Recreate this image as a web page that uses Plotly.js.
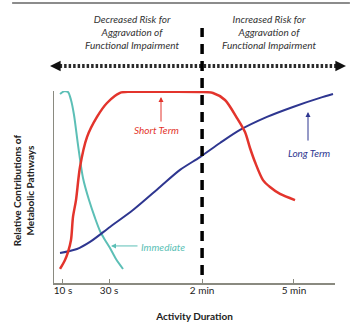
<!DOCTYPE html>
<html><head><meta charset="utf-8">
<script src="https://cdn.plot.ly/plotly-3.0.1.min.js"></script>
<style>html,body{margin:0;padding:0;background:#fff}</style>
</head><body><div id="chart" style="width:350px;height:327px"></div>
<script>
// Tick positions (arbitrary duration scale 0-100) and labels
const tickVals = [3.2, 19.6, 52.7, 85.4];
const tickText = ['10 s', '30 s', '2 min', '5 min'];
const splitAt = 52.7; // 2 min boundary

// Immediate pathway
const immX = [2.14, 3.56, 4.98, 6.05, 7.12, 8.54, 10.32, 12.46, 14.59, 16.37, 18.15, 19.93, 22.06, 24.56];
const immY = [98.4, 99.8, 99.5, 95.3, 87.5, 71.9, 54.7, 43.2, 33.9, 27.1, 22.4, 18.2, 12.5, 7.3];

// Short term pathway
const shortX = [2.14, 3.91, 4.98, 6.05, 6.76, 7.83, 9.25, 11.74, 15.30, 18.86, 23.49, 27.05, 37.7, 51.96, 56.58, 60.85, 65.12, 67.97, 69.75, 71.53, 74.38, 76.87, 80.43, 85.77];
const shortY = [7.3, 12.0, 16.1, 22.4, 34.4, 43.2, 60.4, 76.0, 86.5, 93.75, 99.0, 99.6, 99.6, 99.5, 98.96, 95.3, 85.9, 78.6, 70.3, 63.0, 53.6, 50.0, 46.4, 43.2];

// Long term pathway
const longX = [2.14, 8.19, 12.81, 19.93, 28.11, 37.72, 44.84, 51.96, 59.07, 66.19, 75.8, 85.05, 94.66, 99.29];
const longY = [15.6, 17.7, 21.4, 29.2, 38.0, 50.0, 58.9, 65.6, 72.9, 79.7, 86.5, 91.7, 96.4, 98.4];

const colImm = '#5cbfb6', colShort = '#e3342c', colLong = '#2e3690';
const F = 'Lato, "Open Sans", sans-serif';

const traces = [
  {x: immX, y: immY, mode: 'lines', line: {color: colImm, width: 2, shape: 'spline', smoothing: 0.8}, hoverinfo: 'skip'},
  {x: longX, y: longY, mode: 'lines', line: {color: colLong, width: 2, shape: 'spline', smoothing: 0.8}, hoverinfo: 'skip'},
  {x: shortX, y: shortY, mode: 'lines', line: {color: colShort, width: 2.5, shape: 'spline', smoothing: 0.8}, hoverinfo: 'skip'}
];

const layout = {
  width: 350, height: 327,
  margin: {l: 54, r: 15, t: 91, b: 44},
  paper_bgcolor: '#fff', plot_bgcolor: '#fff',
  showlegend: false,
  font: {family: F, size: 10, color: '#222'},
  xaxis: {
    range: [0, 100], showgrid: false, zeroline: false,
    showline: true, linecolor: '#8a8a80', linewidth: 1.5,
    tickmode: 'array', tickvals: tickVals, ticktext: tickText,
    ticks: 'inside', ticklen: 4, tickcolor: '#8a8a80', tickwidth: 1,
    ticklabelstandoff: -3,
    tickfont: {family: F, size: 10, color: '#222'},
    title: {text: '<b>Activity Duration</b>', font: {family: F, size: 10, color: '#222'}, standoff: 18}
  },
  yaxis: {
    range: [0, 100], showgrid: false, zeroline: false,
    showline: true, linecolor: '#8a8a80', linewidth: 1.5,
    tickmode: 'array', tickvals: [100], ticktext: [''],
    ticks: 'inside', ticklen: 4, tickcolor: '#8a8a80', tickwidth: 1.5,
    showticklabels: false
  },
  shapes: [
    // top rule
    {type: 'line', xref: 'paper', yref: 'paper', x0: -0.149, x1: 1.053, y0: 1.458, y1: 1.458, line: {color: '#8c8c8c', width: 2}},
    // dotted double arrow
    {type: 'line', xref: 'paper', yref: 'paper', x0: 0.02, x1: 1.004, y0: 1.13, y1: 1.13, line: {color: '#2a2a2a', width: 4, dash: '2.5px,2px'}},
    {type: 'path', xref: 'paper', yref: 'paper', path: 'M -0.0142 1.13 L 0.0236 1.157 L 0.0236 1.103 Z', fillcolor: '#111', line: {width: 0}},
    {type: 'path', xref: 'paper', yref: 'paper', path: 'M 1.0391 1.13 L 1.0013 1.157 L 1.0013 1.103 Z', fillcolor: '#111', line: {width: 0}},
    // 2 min dashed boundary
    {type: 'line', xref: 'x', yref: 'paper', x0: splitAt, x1: splitAt, y0: 0.042, y1: 1.328, line: {color: '#000', width: 3.5, dash: '10px,7px'}}
  ],
  annotations: [
    {xref: 'paper', yref: 'paper', x: 0.278, y: 1.307, xanchor: 'center', yanchor: 'middle', text: '<i>Decreased Risk for<br>Aggravation of<br>Functional Impairment</i>', showarrow: false, font: {family: F, size: 10, color: '#333'}, align: 'center'},
    {xref: 'paper', yref: 'paper', x: 0.765, y: 1.307, xanchor: 'center', yanchor: 'middle', text: '<i>Increased Risk for<br>Aggravation of<br>Functional Impairment</i>', showarrow: false, font: {family: F, size: 10, color: '#333'}, align: 'center'},
    {xref: 'paper', yref: 'paper', x: -0.11, y: 0.484, xanchor: 'center', yanchor: 'middle', text: '<b>Relative Contributions of<br>Metabolic Pathways</b>', textangle: -90, showarrow: false, font: {family: F, size: 10, color: '#222'}, align: 'center'},
    // labels
    {x: 36.65, y: 79.7, text: '<i>Short Term</i>', showarrow: false, font: {family: F, size: 10, color: colShort}},
    {x: 38.08, y: 96.9, ax: 38.08, ay: 83.3, axref: 'x', ayref: 'y', text: '', showarrow: true, arrowhead: 2, arrowsize: 1, arrowwidth: 1, arrowcolor: colShort},
    {x: 90.75, y: 67.7, text: '<i>Long Term</i>', showarrow: false, font: {family: F, size: 10, color: colLong}},
    {x: 90.39, y: 89.06, ax: 90.39, ay: 73.4, axref: 'x', ayref: 'y', text: '', showarrow: true, arrowhead: 2, arrowsize: 1, arrowwidth: 1, arrowcolor: colLong},
    {x: 38.79, y: 18.75, text: '<i>Immediate</i>', showarrow: false, font: {family: F, size: 10, color: colImm}},
    {x: 20.28, y: 19.3, ax: 30.25, ay: 19.3, axref: 'x', ayref: 'y', text: '', showarrow: true, arrowhead: 2, arrowsize: 1, arrowwidth: 1, arrowcolor: colImm}
  ]
};

Plotly.newPlot('chart', traces, layout, {staticPlot: true, displayModeBar: false});
</script></body></html>
